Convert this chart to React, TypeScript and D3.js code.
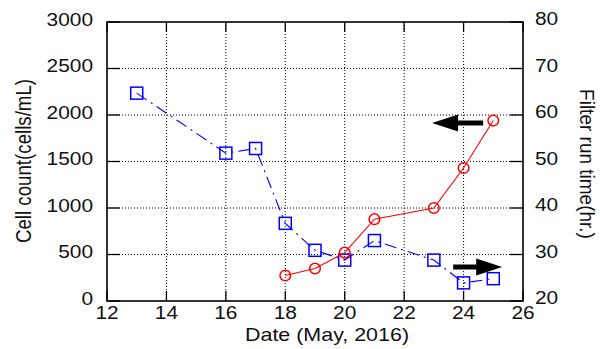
import React, { useEffect, useRef } from 'react';
import * as d3 from 'd3';

// cell count (left axis, red circles)
const cellDates = [18, 19, 20, 21, 23, 24, 25];
const cellCount = [275, 350, 520, 880, 1000, 1430, 1940];

// filter run time (right axis, blue squares)
const runDates = [13, 16, 17, 18, 19, 20, 21, 23, 24, 25];
const runTime = [64.7, 51.8, 52.8, 36.7, 30.9, 28.8, 33.0, 28.8, 23.9, 24.8];

const xTicks = [12, 14, 16, 18, 20, 22, 24, 26];
const leftTicks = [0, 500, 1000, 1500, 2000, 2500, 3000];
const rightTicks = [20, 30, 40, 50, 60, 70, 80];

// annotation arrows: [fromDate, toDate, value, axis]
const arrowFrom = [24.66, 23.65];
const arrowTo = [22.94, 25.3];
const arrowValue = [1914, 27.3];
const arrowAxis = ['left', 'right'];

const W = 600;
const H = 349;
const FONT = 'Liberation Sans, Arial, sans-serif';
const SX = 1.16; // the source picture is stretched sideways a bit

const App = () => {
  const ref = useRef<SVGSVGElement>(null);

  useEffect(() => {
    if (!ref.current) return;
    const svg = d3.select(ref.current);
    svg.selectAll('*').remove();

    const m = { top: 22, right: 77, bottom: 48, left: 107 };
    const pw = W - m.left - m.right;
    const ph = H - m.top - m.bottom;

    const x = d3.scaleLinear().domain([12, 26]).range([m.left, m.left + pw]);
    const yL = d3.scaleLinear().domain([0, 3000]).range([m.top + ph, m.top]);
    const yR = d3.scaleLinear().domain([20, 80]).range([m.top + ph, m.top]);

    svg.append('rect').attr('width', W).attr('height', H).attr('fill', '#fff');

    const g = svg.append('g');

    // grid
    g.selectAll('.gx')
      .data(xTicks.slice(1, -1))
      .join('line')
      .attr('x1', d => x(d)).attr('x2', d => x(d))
      .attr('y1', m.top).attr('y2', m.top + ph)
      .attr('stroke', '#000').attr('stroke-width', 1)
      .attr('stroke-dasharray', '1,2');
    g.selectAll('.gy')
      .data(leftTicks.slice(1, -1))
      .join('line')
      .attr('x1', m.left).attr('x2', m.left + pw)
      .attr('y1', d => yL(d)).attr('y2', d => yL(d))
      .attr('stroke', '#000').attr('stroke-width', 1)
      .attr('stroke-dasharray', '1,2');

    // ticks inward
    xTicks.forEach(t => {
      g.append('line').attr('x1', x(t)).attr('x2', x(t))
        .attr('y1', m.top + ph).attr('y2', m.top + ph - 10)
        .attr('stroke', '#000').attr('stroke-width', 1.3);
      g.append('line').attr('x1', x(t)).attr('x2', x(t))
        .attr('y1', m.top).attr('y2', m.top + 10)
        .attr('stroke', '#000').attr('stroke-width', 1.3);
    });
    leftTicks.forEach(t => {
      g.append('line').attr('x1', m.left).attr('x2', m.left + 13)
        .attr('y1', yL(t)).attr('y2', yL(t))
        .attr('stroke', '#000').attr('stroke-width', 1.3);
    });
    rightTicks.forEach(t => {
      g.append('line').attr('x1', m.left + pw).attr('x2', m.left + pw - 13)
        .attr('y1', yR(t)).attr('y2', yR(t))
        .attr('stroke', '#000').attr('stroke-width', 1.3);
    });

    // box
    g.append('rect')
      .attr('x', m.left).attr('y', m.top).attr('width', pw).attr('height', ph)
      .attr('fill', 'none').attr('stroke', '#000').attr('stroke-width', 1.6);

    // text placed by its baseline, stretched sideways like the source
    const label = (tx: number, ty: number, text: string, anchor: string, size = 18) => {
      g.append('text')
        .attr('transform', `translate(${tx},${ty}) scale(${SX},1)`)
        .attr('text-anchor', anchor)
        .attr('font-family', FONT)
        .attr('font-size', size)
        .attr('fill', '#111')
        .text(text);
    };
    xTicks.forEach(t => label(x(t), m.top + ph + 18, String(t), 'middle'));
    leftTicks.forEach(t => label(m.left - 14, yL(t) + 3.5, String(t), 'end'));
    rightTicks.forEach(t => label(m.left + pw + 12, yR(t) + 3, String(t), 'start'));

    label(327, 341, 'Date (May, 2016)', 'middle', 18.5);

    g.append('text')
      .attr('transform', `translate(31,161) rotate(-90) scale(1,1.2)`)
      .attr('text-anchor', 'middle')
      .attr('font-family', FONT).attr('font-size', 18.7).attr('fill', '#111')
      .text('Cell count(cells/mL)');
    g.append('text')
      .attr('transform', `translate(580,164) rotate(90) scale(1,1.05)`)
      .attr('text-anchor', 'middle')
      .attr('font-family', FONT).attr('font-size', 19).attr('fill', '#111')
      .text('Filter run time(hr.)');

    // blue series: filter run time
    const blue = runDates.map((d, i) => [x(d), yR(runTime[i])] as [number, number]);
    g.append('path')
      .attr('d', d3.line()(blue))
      .attr('fill', 'none').attr('stroke', '#0000ff').attr('stroke-width', 1.1)
      .attr('stroke-dasharray', '12,5,2,5');
    g.selectAll('.sq')
      .data(blue)
      .join('rect')
      .attr('x', d => d[0] - 6).attr('y', d => d[1] - 6)
      .attr('width', 12).attr('height', 12)
      .attr('fill', 'none').attr('stroke', '#0000ff').attr('stroke-width', 1.5);

    // red series: cell count
    const red = cellDates.map((d, i) => [x(d), yL(cellCount[i])] as [number, number]);
    g.append('path')
      .attr('d', d3.line()(red))
      .attr('fill', 'none').attr('stroke', '#ff0000').attr('stroke-width', 1.1);
    g.selectAll('.ci')
      .data(red)
      .join('circle')
      .attr('cx', d => d[0]).attr('cy', d => d[1]).attr('r', 5.3)
      .attr('fill', 'none').attr('stroke', '#ff0000').attr('stroke-width', 1.5);

    // arrows
    arrowFrom.forEach((f, i) => {
      const yy = arrowAxis[i] === 'left' ? yL(arrowValue[i]) : yR(arrowValue[i]);
      const x0 = x(f);
      const x1 = x(arrowTo[i]);
      const dir = Math.sign(x1 - x0);
      const headLen = 26;
      const hb = x1 - dir * headLen;
      const pts: [number, number][] = [
        [x0, yy - 2.5], [hb, yy - 2.5], [hb, yy - 8.5], [x1, yy],
        [hb, yy + 8.5], [hb, yy + 2.5], [x0, yy + 2.5]
      ];
      g.append('path')
        .attr('d', d3.line()(pts) + 'Z')
        .attr('fill', '#000');
    });
  }, []);

  return (
    <svg ref={ref} width={W} height={H}
      style={{ position: 'absolute', left: 0, top: 0, display: 'block' }} />
  );
};

export default App;
